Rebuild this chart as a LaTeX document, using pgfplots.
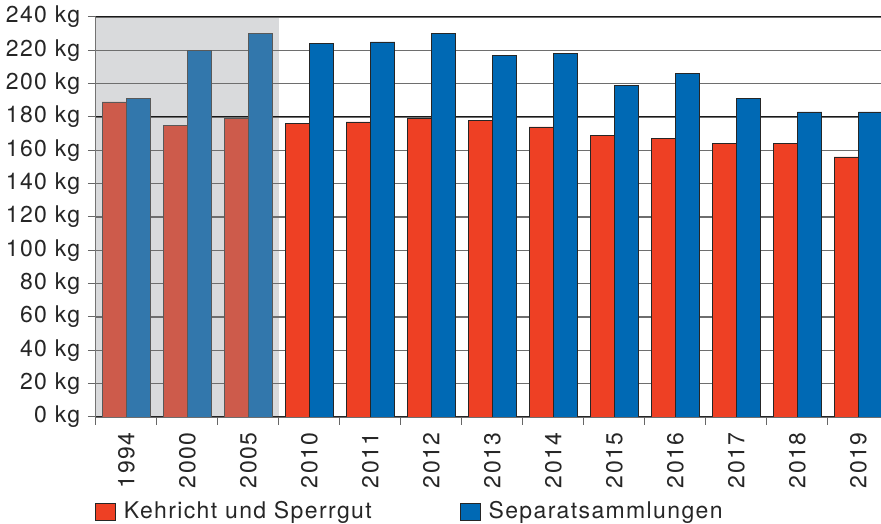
\documentclass[border=0pt]{standalone}
\usepackage{fontspec}
\setmainfont{TeX Gyre Heros}[LetterSpace=6]
\usepackage{pgfplots}
\pgfplotsset{compat=1.18}
\definecolor{redA}{HTML}{CD5B4B}
\definecolor{blueA}{HTML}{3277AC}
\definecolor{redB}{HTML}{EE4024}
\definecolor{blueB}{HTML}{0069B4}
\definecolor{bgA}{HTML}{D9DADC}
\definecolor{gridC}{HTML}{6E6E6E}
\newcommand{\lblfont}{\fontsize{23}{27}\selectfont}
\begin{document}
\lblfont
\begin{tikzpicture}
\begin{axis}[
  set layers=standard,
  at={(0,0)}, anchor=south west,
  scale only axis, width=785pt, height=400pt,
  xmin=-0.5, xmax=12.369, ymin=0, ymax=240,
  axis lines*=left,
  x axis line style={draw=black!85, line width=1pt},
  y axis line style={draw=black!55, line width=1pt},
  tick align=outside,
  major tick length=8pt, minor tick length=8pt,
  ytick={0,20,...,240},
  yticklabel={\pgfmathprintnumber{\tick} kg},
  /pgf/number format/assume math mode=true,
  xtick={0,...,12},
  xticklabels={1994,2000,2005,2010,2011,2012,2013,2014,2015,2016,2017,2018,2019},
  minor xtick={-0.5,0.5,...,12.5},
  major x tick style={draw=none},
  minor x tick style={draw=black!60, line width=1pt},
  y tick style={draw=black!60, line width=1pt},
  xticklabel style={rotate=90, anchor=east, font=\lblfont, text=black!85},
  yticklabel style={font=\lblfont, text=black!85},
  ymajorgrids,
  major y grid style={draw=gridC, line width=1.1pt},
  legend columns=2,
  legend style={at={(0,0)}, anchor=north west, xshift=-1pt, yshift=-82pt,
    draw=none, fill=none, inner sep=0pt, font=\lblfont, text=black!85,
    /tikz/every odd column/.append style={column sep=6pt},
    /tikz/every even column/.append style={column sep=86pt}},
]
\begin{pgfonlayer}{axis background}
\fill[bgA] (axis cs:-0.5,0) rectangle (axis cs:2.5,240);
\end{pgfonlayer}
\begin{pgfonlayer}{axis grid}
\draw[black!90, line width=1pt] (axis cs:-0.5,180) -- (axis cs:12.5,180);
\draw[black!90, line width=1pt] (axis cs:-0.5,240) -- (axis cs:12.5,240);
\end{pgfonlayer}
\addplot[ybar, bar width=0.4, bar shift=-0.2, fill=redB, draw=black!85, line width=0.8pt,
  legend image code/.code={\draw[fill=redB, draw=black!85, line width=0.8pt] (0pt,-8.5pt) rectangle (20pt,8.5pt);}]
  coordinates {(3,176) (4,177) (5,179) (6,178) (7,174) (8,169) (9,167) (10,164) (11,164) (12,156)};
\addlegendentry{Kehricht und Sperrgut}
\addplot[ybar, bar width=0.4, bar shift=0.2, fill=blueB, draw=black!85, line width=0.8pt,
  legend image code/.code={\draw[fill=blueB, draw=black!85, line width=0.8pt] (0pt,-8.5pt) rectangle (20pt,8.5pt);}]
  coordinates {(3,224) (4,225) (5,230) (6,217) (7,218) (8,199) (9,206) (10,191) (11,183) (12,183)};
\addlegendentry{Separatsammlungen}
\addplot[forget plot, ybar, bar width=0.4, bar shift=-0.2, fill=redA, draw=black!65, line width=0.8pt]
  coordinates {(0,189) (1,175) (2,179)};
\addplot[forget plot, ybar, bar width=0.4, bar shift=0.2, fill=blueA, draw=black!65, line width=0.8pt]
  coordinates {(0,191) (1,220) (2,230)};
\end{axis}
\pgfresetboundingbox
\path (-96pt,-107pt) rectangle (785pt,417pt);
\end{tikzpicture}
\end{document}
